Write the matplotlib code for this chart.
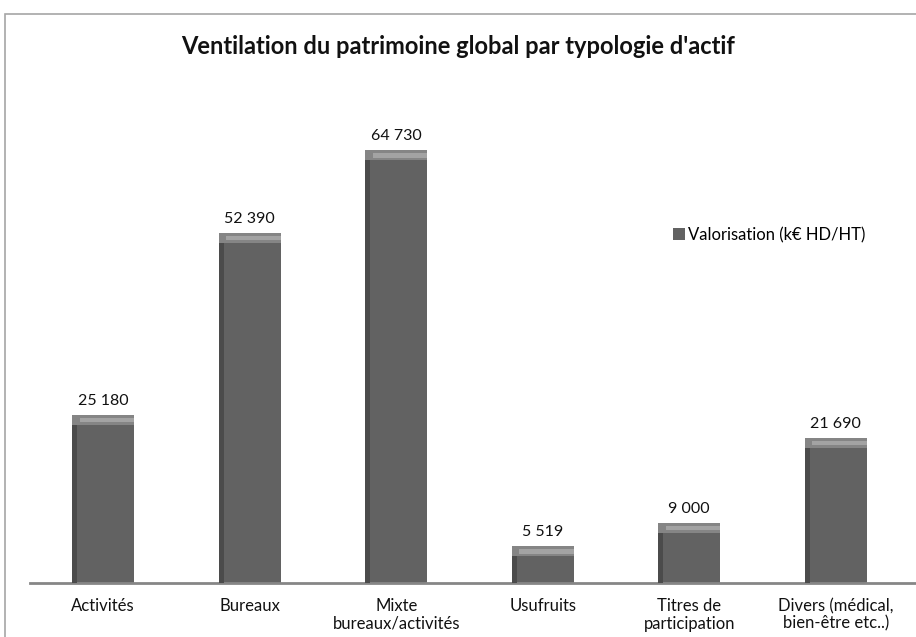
import matplotlib
matplotlib.use("Agg")
import matplotlib.pyplot as plt
from matplotlib.patches import Rectangle, Patch

categories = ["Activités", "Bureaux", "Mixte\nbureaux/activités", "Usufruits",
              "Titres de\nparticipation", "Divers (médical,\nbien-être etc..)"]
values = [25180, 52390, 64730, 5519, 9000, 21690]
labels = ["25 180", "52 390", "64 730", "5 519", "9 000", "21 690"]
title = "Ventilation du patrimoine global par typologie d'actif"
series_name = "Valorisation (k€ HD/HT)"

plt.rcParams['font.family'] = ['Lato', 'DejaVu Sans']

W, H = 916, 637
fig = plt.figure(figsize=(W / 100, H / 100), dpi=100)

# outer chart border
fig.patches.append(Rectangle((5 / W, -0.05), 1.1, (H - 14) / H + 0.05,
                             transform=fig.transFigure, fill=False,
                             edgecolor="#a6a6a6", linewidth=1.2))

ax_bottom = 583
ax_top = 100
ax = fig.add_axes([30 / W, 1 - ax_bottom / H, (916 - 30) / W, (ax_bottom - ax_top) / H])
scale = (583 - 150) / 64730.0
ax.set_ylim(0, (ax_bottom - ax_top) / scale)
ax.set_xlim(-0.5, 5.5 + (916 - 909) / 146.4)

x = list(range(len(values)))
bw = 0.42
ax.bar(x, values, width=bw, color="#626262", edgecolor="none", zorder=2)
# darker left strip
ax.bar([i - bw / 2 + 0.016 for i in x], values, width=0.032, color="#4b4b4b",
       edgecolor="none", zorder=3)
# highlight band at top
band = 1500
ax.bar(x, [band] * len(values), bottom=[v - band for v in values], width=bw,
       color="#858585", edgecolor="none", zorder=4)
ax.bar([i + 0.024 for i in x], [band * 0.45] * len(values),
       bottom=[v - band * 0.75 for v in values], width=bw - 0.048,
       color="#a3a3a3", edgecolor="none", zorder=5)

for i, (v, lab) in enumerate(zip(values, labels)):
    ax.annotate(lab, (i, v), xytext=(0, 5), textcoords="offset points",
                ha="center", va="bottom", fontsize=11.5, color="#111111")

for s in ["top", "right", "left"]:
    ax.spines[s].set_visible(False)
ax.spines["bottom"].set_color("#868686")
ax.spines["bottom"].set_linewidth(2)
ax.set_yticks([])
ax.set_xticks(x)
ax.set_xticklabels(categories, fontsize=12, color="#111111", linespacing=1.1)
ax.tick_params(axis="x", length=0, pad=11)

fig.text(458 / W, 1 - 46 / H, title, ha="center", va="center",
         fontsize=17, fontweight="bold", color="#111111")

ax.legend(handles=[Patch(facecolor="#626262", edgecolor="none")], labels=[series_name],
          loc="center left", bbox_to_anchor=(673 / W, 1 - 235 / H),
          bbox_transform=fig.transFigure, frameon=False, fontsize=12,
          handlelength=0.7, handleheight=0.7, handletextpad=0.2,
          borderpad=0, borderaxespad=0)

fig.savefig("out.png", dpi=100, facecolor="white")
